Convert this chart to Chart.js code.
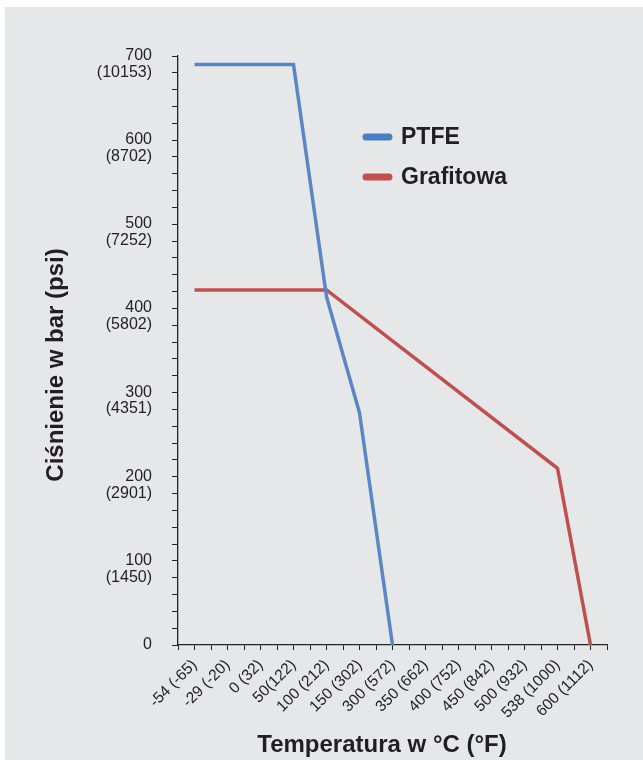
<!DOCTYPE html>
<html lang="pl">
<head>
<meta charset="utf-8">
<title>Ciśnienie - temperatura</title>
<script src="https://cdn.jsdelivr.net/npm/chart.js@4.4.1/dist/chart.umd.min.js"></script>
<style>
  html, body { margin: 0; padding: 0; background: #fff; }
  canvas { display: block; }
</style>
</head>
<body>
<canvas id="wykres" width="643" height="760"></canvas>
<script>
const kategorie = ["-54 (-65)", "-29 (-20)", "0 (32)", "50(122)", "100 (212)", "150 (302)", "300 (572)",
  "350 (662)", "400 (752)", "450 (842)", "500 (932)", "538 (1000)", "600 (1112)"];
// null = brak punktu, linia idzie prosto do nastepnego
const ptfe = [690, 690, 690, 690, 414, 276, 0, null, null, null, null, null, null];
const grafitowa = [422, 422, 422, 422, 422, null, null, null, null, null, null, 210, 0];
const etykietyBar = [0, 100, 200, 300, 400, 500, 600, 700];
const etykietyPsi = ["", "(1450)", "(2901)", "(4351)", "(5802)", "(7252)", "(8702)", "(10153)"];
const tytulX = "Temperatura w °C (°F)";
const tytulY = "Ciśnienie w bar (psi)";

const KOLOR_TEKSTU = "#231f20";
Chart.defaults.font.family = '"Liberation Sans", Arial, Helvetica, sans-serif';
Chart.defaults.color = KOLOR_TEKSTU;

// punkty na srodku kategorii
function punkty(seria) {
  return seria.map((v, i) => ({ x: i + 0.5, y: v }));
}

const tlo = {
  id: "tlo",
  beforeDraw(chart) {
    const ctx = chart.ctx;
    ctx.save();
    ctx.fillStyle = "#e6e7e8";
    ctx.fillRect(5, 7, chart.width - 5, chart.height - 7);
    ctx.restore();
  }
};

const legendaITytuly = {
  id: "legendaITytuly",
  afterDraw(chart) {
    const ctx = chart.ctx;
    ctx.save();
    // legenda w srodku wykresu
    chart.data.datasets.forEach((ds, i) => {
      const y = 137 + i * 40;
      ctx.strokeStyle = ds.legendColor;
      ctx.lineWidth = 7;
      ctx.lineCap = "round";
      ctx.beginPath();
      ctx.moveTo(366, y);
      ctx.lineTo(389, y);
      ctx.stroke();
      ctx.fillStyle = KOLOR_TEKSTU;
      ctx.font = "bold 23px " + Chart.defaults.font.family;
      ctx.textBaseline = "middle";
      ctx.textAlign = "left";
      ctx.fillText(ds.label, 401, y + 1);
    });
    // tytuly osi
    ctx.font = "bold 24px " + Chart.defaults.font.family;
    ctx.textAlign = "center";
    ctx.textBaseline = "middle";
    ctx.fillText(tytulX, 382, 745);
    ctx.translate(56, 365);
    ctx.rotate(-Math.PI / 2);
    ctx.fillText(tytulY, 0, 0);
    ctx.restore();
  }
};

new Chart(document.getElementById("wykres"), {
  type: "line",
  data: {
    datasets: [
      {
        label: "PTFE",
        data: punkty(ptfe),
        borderColor: "#5a87c3",
        legendColor: "#4a7fc1",
        borderWidth: 3.5,
        pointRadius: 0,
        spanGaps: true
      },
      {
        label: "Grafitowa",
        data: punkty(grafitowa),
        borderColor: "#c0504d",
        legendColor: "#c0504d",
        borderWidth: 3.5,
        pointRadius: 0,
        spanGaps: true
      }
    ]
  },
  options: {
    responsive: false,
    animation: false,
    layout: { padding: { left: 0, top: 56, right: 36, bottom: 0 } },
    plugins: {
      legend: { display: false },
      tooltip: { enabled: false }
    },
    scales: {
      x: {
        type: "linear",
        min: 0,
        max: kategorie.length,
        afterFit: s => { s.height = 115; },
        border: { color: "#222", width: 1.3 },
        grid: { drawOnChartArea: false, tickLength: 5, color: "#222" },
        ticks: {
          stepSize: 0.5,
          autoSkip: false,
          maxRotation: 45,
          minRotation: 45,
          padding: 6,
          font: { size: 15.5 },
          callback: v => {
            const k = Math.round(v * 2);
            return k % 2 === 1 ? kategorie[(k - 1) / 2] : "";
          }
        }
      },
      y: {
        min: 0,
        max: 700,
        afterFit: s => { s.width = 178; },
        border: { color: "#222", width: 1.3 },
        grid: { drawOnChartArea: false, tickLength: 6, color: "#222" },
        ticks: {
          stepSize: 20,
          autoSkip: false,
          padding: 20,
          labelOffset: 8,
          font: { size: 16, lineHeight: 1.05 },
          callback: v => {
            const i = etykietyBar.indexOf(v);
            return i < 0 ? "" : [String(v), etykietyPsi[i]];
          }
        }
      }
    }
  },
  plugins: [tlo, legendaITytuly]
});
</script>
</body>
</html>
